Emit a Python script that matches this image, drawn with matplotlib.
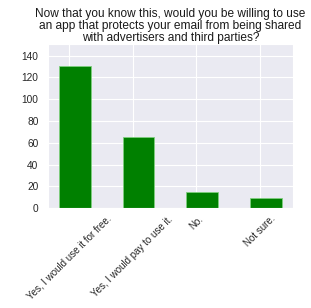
import numpy as np
import matplotlib
matplotlib.use("Agg")
import matplotlib.pyplot as plt
import seaborn as sns

# Réponses au sondage
categories = ["Yes, I would use it for free.", "Yes, I would pay to use it.", "No.", "Not sure."]
counts = [131, 65, 15, 9]
title = ("Now that you know this, would you be willing to use\n"
         "an app that protects your email from being shared\n"
         "with advertisers and third parties?")

sns.set_style("darkgrid")
plt.rcParams["font.family"] = ["Liberation Sans", "DejaVu Sans"]

fig = plt.figure(figsize=(3.11, 3.08), dpi=100)
ax = fig.add_axes([0.153, 0.324, 0.789, 0.533])

x = np.arange(len(categories))
ax.bar(x + 0.094, counts, width=0.5, color="green", edgecolor="#7fcf7f", linewidth=0.6)

ax.set_xticks(x)
ax.set_xticklabels(categories, rotation=45, ha="center", fontsize=7, color="0.15")
ax.set_yticks(np.arange(0, 141, 20))
ax.tick_params(axis="y", labelsize=7.3, labelcolor="0.15", pad=3)
ax.tick_params(axis="x", pad=0.5)
ax.set_xlim(-0.334, 3.52)
ax.set_ylim(0, 150.7)
ax.set_title(title, fontsize=8.6, color="0.1", pad=2, linespacing=1.0)

fig.savefig("out.png", dpi=100)
